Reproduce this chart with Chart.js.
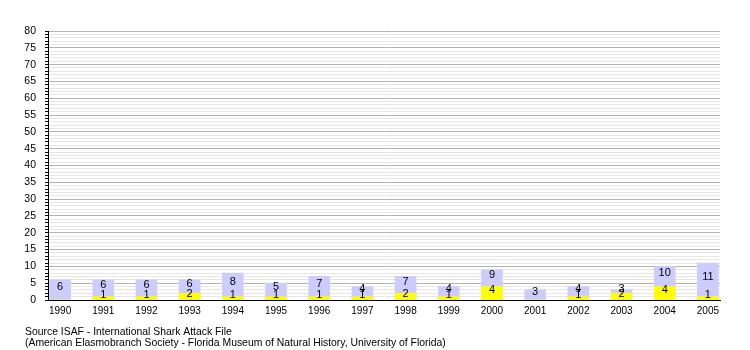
<!DOCTYPE html>
<html>
<head>
<meta charset="utf-8">
<script src="https://cdn.jsdelivr.net/npm/chart.js@4/dist/chart.umd.min.js"></script>
<style>
  html, body { margin: 0; padding: 0; background: #fff; }
  #wrap { width: 750px; height: 350px; }
</style>
</head>
<body>
<div id="wrap"><canvas id="sharkChart"></canvas></div>
<script>
// shark attacks per year: all attacks and fatal ones
const years = [1990, 1991, 1992, 1993, 1994, 1995, 1996, 1997, 1998, 1999, 2000, 2001, 2002, 2003, 2004, 2005];
const totalAttacks = [6, 6, 6, 6, 8, 5, 7, 4, 7, 4, 9, 3, 4, 3, 10, 11];
const fatalAttacks = [0, 1, 1, 2, 1, 1, 1, 1, 2, 1, 4, 0, 1, 2, 4, 1];
const footerLines = [
    'Source ISAF - International Shark Attack File',
    '(American Elasmobranch Society - Florida Museum of Natural History, University of Florida)'
];

const FONT = '"Liberation Sans", Arial, sans-serif';

// numbers written inside the bars + source note under the chart
const barLabels = {
    id: 'barLabels',
    afterDatasetsDraw(chart) {
        const ctx = chart.ctx;
        const y = chart.scales.y;
        const x = chart.scales.x;
        ctx.save();
        ctx.fillStyle = '#000';
        ctx.font = '11px ' + FONT;
        ctx.textAlign = 'center';
        ctx.textBaseline = 'middle';
        years.forEach((yr, i) => {
            const cx = x.getPixelForValue(yr);
            const t = totalAttacks[i], f = fatalAttacks[i];
            ctx.fillText(String(t), cx, y.getPixelForValue((t + f) / 2) - 3);
            if (f > 0) ctx.fillText(String(f), cx, y.getPixelForValue(f / 2) - 3);
        });
        ctx.font = '10.4px ' + FONT;
        ctx.textAlign = 'left';
        ctx.textBaseline = 'alphabetic';
        footerLines.forEach((line, i) => ctx.fillText(line, 25, 335 + i * 10.5));
        ctx.restore();
    }
};

const toPoints = arr => arr.map((v, i) => ({ x: years[i], y: v }));

new Chart(document.querySelector('#sharkChart'), {
    type: 'bar',
    data: {
        datasets: [
            {
                label: 'Fatal',
                data: toPoints(fatalAttacks),
                backgroundColor: '#ffff00',
                grouped: false,
                order: 0
            },
            {
                label: 'Attacks',
                data: toPoints(totalAttacks),
                backgroundColor: '#ccccff',
                grouped: false,
                order: 1
            }
        ]
    },
    options: {
        responsive: true,
        maintainAspectRatio: false,
        animation: false,
        barThickness: 21,
        layout: { padding: { left: 0, right: 30, top: 31, bottom: 0 } },
        plugins: {
            legend: { display: false },
            tooltip: { enabled: false }
        },
        scales: {
            x: {
                type: 'linear',
                offset: false,
                min: 1989.72,
                max: 2005.28,
                afterBuildTicks: scale => { scale.ticks = years.map(v => ({ value: v })); },
                afterFit: scale => { scale.height = 50; },
                grid: { display: false, drawTicks: false },
                border: { color: '#000', width: 1 },
                ticks: {
                    color: '#000',
                    font: { family: FONT, size: 10 },
                    padding: 5,
                    maxRotation: 0,
                    autoSkip: false,
                    callback: v => String(v)
                }
            },
            y: {
                min: 0,
                max: 80,
                afterFit: scale => { scale.width = 48; },
                border: { color: '#000', width: 1 },
                grid: {
                    color: c => (c.tick.value % 5 === 0 ? '#b4b4b4' : '#e6e6e6'),
                    tickColor: '#000',
                    tickLength: 3
                },
                ticks: {
                    stepSize: 1,
                    autoSkip: false,
                    color: '#000',
                    padding: 9,
                    font: { family: FONT, size: 10.5 },
                    callback: v => (v % 5 === 0 ? v : '')
                }
            }
        }
    },
    plugins: [barLabels]
});
</script>
</body>
</html>
